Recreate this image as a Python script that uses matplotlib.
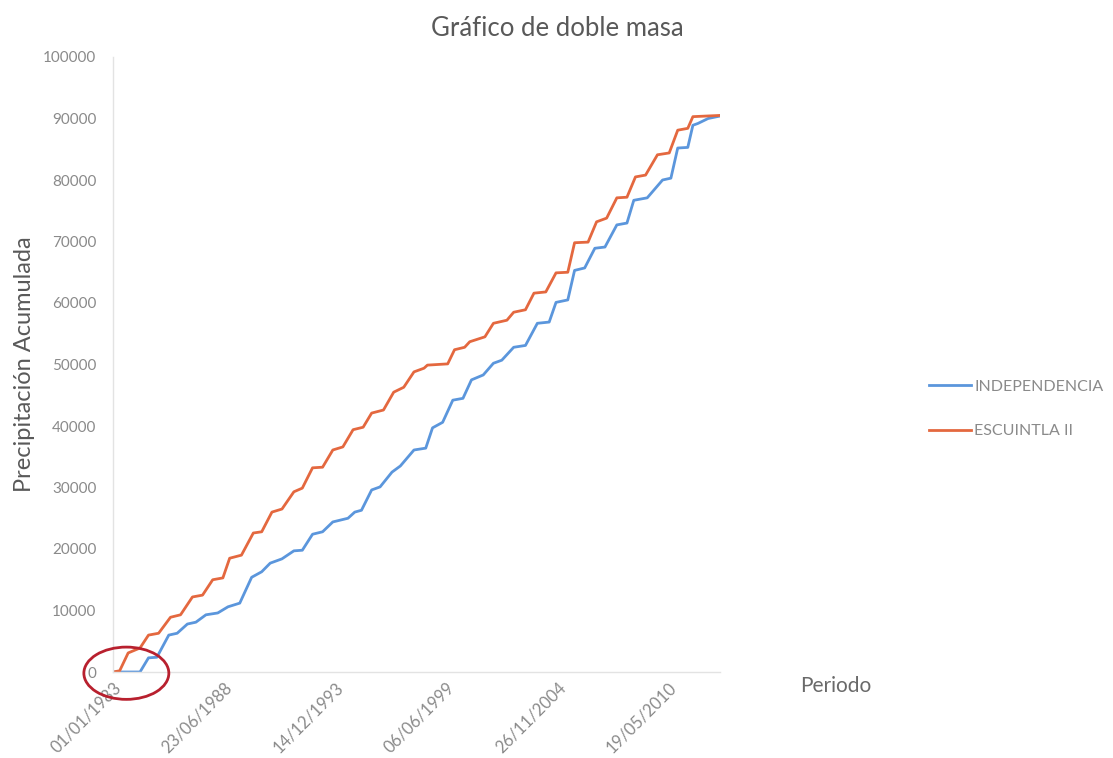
import pandas as pd
import matplotlib
matplotlib.use("Agg")
import matplotlib.pyplot as plt
import matplotlib.dates as mdates
from matplotlib.patches import Ellipse

plt.rcParams['font.family'] = ['Lato', 'DejaVu Sans']

# Precipitación acumulada (mm)
fechas_indep = ['1983-01', '1984-05', '1984-10', '1985-03', '1985-10', '1986-03', '1986-09',
                '1987-02', '1987-08', '1988-03', '1988-09', '1989-04', '1989-11', '1990-05',
                '1990-10', '1991-05', '1991-12', '1992-05', '1992-11', '1993-05', '1993-11',
                '1994-08', '1994-12', '1995-04', '1995-10', '1996-03', '1996-10', '1997-03',
                '1997-11', '1998-06', '1998-10', '1999-04', '1999-10', '2000-04', '2000-09',
                '2001-04', '2001-10', '2002-03', '2002-10', '2003-05', '2003-12', '2004-07',
                '2004-11', '2005-06', '2005-10', '2006-04', '2006-10', '2007-04', '2007-11',
                '2008-05', '2008-09', '2009-05', '2010-02', '2010-07', '2010-11', '2011-05',
                '2011-08', '2011-11', '2012-05', '2012-12']
acum_indep = [0, 0, 2300, 2400, 6000, 6300, 7800,
              8100, 9300, 9600, 10600, 11200, 15400, 16300,
              17700, 18400, 19700, 19800, 22400, 22800, 24400,
              25000, 26000, 26300, 29600, 30100, 32500, 33500,
              36100, 36400, 39700, 40600, 44200, 44500, 47500,
              48300, 50200, 50700, 52800, 53100, 56700, 56900,
              60100, 60500, 65300, 65700, 68900, 69100, 72700,
              73000, 76700, 77100, 80000, 80300, 85200, 85300,
              88900, 89200, 90000, 90400]

fechas_escu = ['1983-01', '1983-05', '1983-10', '1984-05', '1984-10', '1985-04', '1985-11',
               '1986-05', '1986-12', '1987-06', '1987-12', '1988-06', '1988-10', '1989-05',
               '1989-12', '1990-05', '1990-11', '1991-05', '1991-12', '1992-05', '1992-11',
               '1993-05', '1993-11', '1994-05', '1994-11', '1995-05', '1995-10', '1996-05',
               '1996-11', '1997-05', '1997-11', '1998-05', '1998-07', '1999-07', '1999-11',
               '2000-05', '2000-08', '2001-05', '2001-10', '2002-06', '2002-10', '2003-05',
               '2003-10', '2004-05', '2004-11', '2005-06', '2005-10', '2006-06', '2006-11',
               '2007-05', '2007-11', '2008-05', '2008-10', '2009-04', '2009-11', '2010-06',
               '2010-11', '2011-05', '2011-08', '2012-12']
acum_escu = [0, 200, 3100, 3900, 6000, 6300, 8900,
             9300, 12200, 12500, 15000, 15300, 18500, 19000,
             22600, 22800, 26000, 26500, 29300, 29900, 33200,
             33300, 36100, 36600, 39400, 39800, 42100, 42600,
             45500, 46300, 48800, 49400, 49900, 50100, 52400,
             52800, 53700, 54500, 56700, 57200, 58500, 58900,
             61600, 61800, 64900, 65000, 69800, 69900, 73200,
             73800, 77100, 77200, 80500, 80800, 84100, 84400,
             88100, 88400, 90300, 90500]

inicio = pd.Timestamp('1983-01-01')
fin = pd.Timestamp('2012-12-01')
ticks = pd.date_range(inicio, fin, freq='2000D')

gris = '#8a8a8a'

fig = plt.figure(figsize=(11.13, 7.58), dpi=100)
ax = fig.add_axes([113/1113, 1 - 672/758, (720 - 113)/1113, (672 - 57)/758])

ax.plot(pd.to_datetime(fechas_indep), acum_indep, color='#5b96dc', lw=2.0, label='INDEPENDENCIA')
ax.plot(pd.to_datetime(fechas_escu), acum_escu, color='#e4683f', lw=2.0, label='ESCUINTLA II')

ax.set_xlim(inicio, fin)
ax.set_ylim(0, 100000)
ax.set_yticks(range(0, 100001, 10000))
ax.set_xticks(ticks)
ax.xaxis.set_major_formatter(mdates.DateFormatter('%d/%m/%Y'))
ax.tick_params(axis='both', length=0, colors=gris)
ax.tick_params(axis='y', pad=12, labelsize=11)
ax.tick_params(axis='x', pad=5, labelsize=12)
for lab in ax.get_xticklabels():
    lab.set_rotation(45)
    lab.set_ha('right')
    lab.set_rotation_mode('anchor')

for s in ['top', 'right']:
    ax.spines[s].set_visible(False)
for s in ['left', 'bottom']:
    ax.spines[s].set_color('#e3e3e3')
    ax.spines[s].set_linewidth(1.0)

ax.set_ylabel('Precipitación Acumulada', fontsize=17, color='#595959')
ax.yaxis.set_label_coords(-0.128, 0.5)

# círculo rojo alrededor del origen
ax.add_patch(Ellipse((0.022, -0.002), 0.14, 0.085, transform=ax.transAxes,
                     fill=False, edgecolor='#b8202e', lw=2.0, clip_on=False, zorder=5))

fig.text(557/1113, 1 - 28/758, 'Gráfico de doble masa', ha='center', va='center',
         fontsize=18.5, color='#595959')
fig.text(836/1113, 1 - 686/758, 'Periodo', ha='center', va='center',
         fontsize=15, color='#6a6a6a')

fig.legend(loc='center left', bbox_to_anchor=(915/1113, 1 - 409/758), frameon=False,
           fontsize=11.5, labelcolor=gris, handlelength=2.6, handletextpad=0.2,
           labelspacing=1.9)

fig.savefig('out.png', dpi=100, facecolor='white')
